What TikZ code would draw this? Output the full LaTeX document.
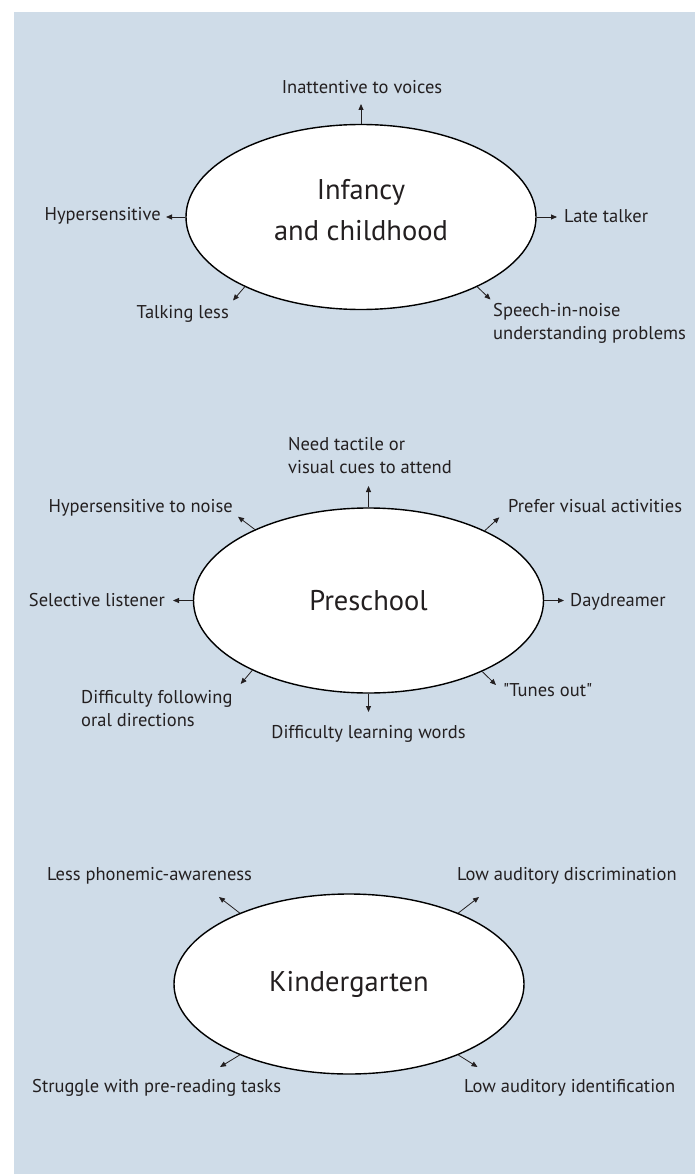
\documentclass[tikz,border=0pt]{standalone}
\usepackage{fontspec}
\setmainfont{PT Sans}
\newfontfamily\signfont{PT Sans}
\usetikzlibrary{shapes.geometric,arrows.meta}
\definecolor{panelbg}{RGB}{207,220,232}
\definecolor{ink}{RGB}{35,31,32}

\begin{document}
\begin{tikzpicture}[x=1pt,y=-1pt,
    stage/.style={ellipse,draw=black,line width=1.4pt,fill=white,inner sep=0pt,
        minimum width=350pt,minimum height=185pt,text=ink,align=center,
        font=\signfont\fontsize{28.5}{41}\selectfont},
    sign/.style={inner sep=0pt,text=ink,align=left,font=\signfont\fontsize{18.5}{23}\selectfont},
    pointer/.style={draw=ink,line width=0.8pt,-{Triangle[length=6pt,width=5pt]}}]
    % \helpgrid{699}{1174}

    \useasboundingbox[fill=white] (0,0) rectangle (699,1174);
    \fill[panelbg] (14,12) rectangle (695,1174);

    % infancy and childhood
    \node[stage,text depth=14pt] (inf) at (361,217) {Infancy\\and childhood};
    \coordinate (inf-n) at (361,104);
    \coordinate (inf-w) at (166,217);
    \coordinate (inf-e) at (557,217);
    \coordinate (inf-sw) at (233,300.5);
    \coordinate (inf-se) at (490.5,299.5);
    \draw[pointer] (inf.90) -- (inf-n);
    \draw[pointer] (inf.180) -- (inf-w);
    \draw[pointer] (inf.0) -- (inf-e);
    \draw[pointer] (inf.211.5) -- (inf-sw);
    \draw[pointer] (inf.329.7) -- (inf-se);
    \node[sign,anchor=base] (inatt) at (362,94) {Inattentive to voices};
    \node[sign,anchor=base east] (hyper) at (161,221) {Hypersensitive};
    \node[sign,anchor=base west] (late) at (564,223) {Late talker};
    \node[sign,anchor=base east] (talk) at (229,318) {Talking less};
    \node[sign,anchor=north west] (speech) at (493,303.5) {Speech-in-noise\\understanding problems};

    % preschool
    \node[stage] (pre) at (368.5,600.5) {Preschool};
    \coordinate (pre-n) at (368.5,486);
    \coordinate (pre-nw) at (238,516.7);
    \coordinate (pre-w) at (173,600.5);
    \coordinate (pre-ne) at (499.3,517.3);
    \coordinate (pre-e) at (564,600.5);
    \coordinate (pre-se) at (496,685);
    \coordinate (pre-s) at (368.5,712);
    \coordinate (pre-sw) at (240.7,684);
    \draw[pointer] (pre.90) -- (pre-n);
    \draw[pointer] (pre.148.8) -- (pre-nw);
    \draw[pointer] (pre.180) -- (pre-w);
    \draw[pointer] (pre.31.1) -- (pre-ne);
    \draw[pointer] (pre.0) -- (pre-e);
    \draw[pointer] (pre.328.9) -- (pre-se);
    \draw[pointer] (pre.270) -- (pre-s);
    \draw[pointer] (pre.211.9) -- (pre-sw);
    \node[sign,anchor=north west] (tactile) at (288,437) {Need tactile or\\visual cues to attend};
    \node[sign,anchor=base east] (noise) at (233,512.5) {Hypersensitive to noise};
    \node[sign,anchor=base east] (select) at (165,606) {Selective listener};
    \node[sign,anchor=base west] (prefer) at (508,512.7) {Prefer visual activities};
    \node[sign,anchor=base west] (dream) at (570,606) {Daydreamer};
    \node[sign,anchor=base west] (tunes) at (503,696.7) {"Tunes out"};
    \node[sign,anchor=base] (words) at (368.5,738) {Difficulty learning words};
    \node[sign,anchor=north west] (oral) at (81,690) {Difficulty following\\oral directions};

    % kindergarten
    \node[stage,minimum height=180pt] (kin) at (349,984) {Kindergarten};
    \coordinate (kin-nw) at (219,897);
    \coordinate (kin-ne) at (479,897);
    \coordinate (kin-sw) at (220,1067);
    \coordinate (kin-se) at (477.5,1067);
    \draw[pointer] (kin.147) -- (kin-nw);
    \draw[pointer] (kin.33) -- (kin-ne);
    \draw[pointer] (kin.213) -- (kin-sw);
    \draw[pointer] (kin.327) -- (kin-se);
    \node[sign,anchor=base west] (phon) at (47,880) {Less phonemic-awareness};
    \node[sign,anchor=base west] (discr) at (457,880) {Low auditory discrimination};
    \node[sign,anchor=base west] (prered) at (32,1092) {Struggle with pre-reading tasks};
    \node[sign,anchor=base west] (ident) at (464,1092) {Low auditory identification};

\end{tikzpicture}
\end{document}
